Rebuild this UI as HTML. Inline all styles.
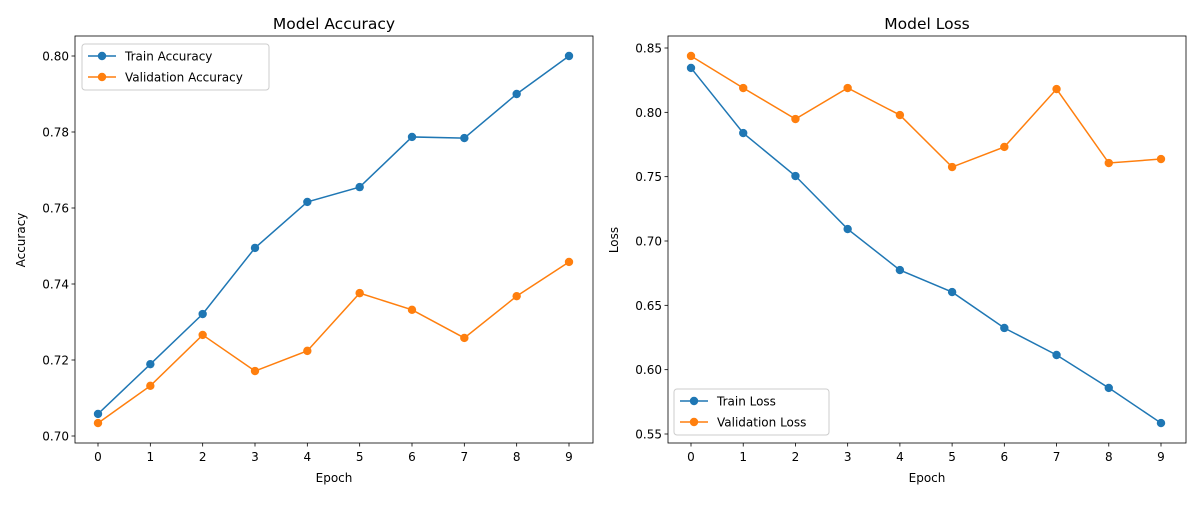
<!DOCTYPE html>
<html><head><meta charset="utf-8"><style>
body{margin:0;background:#fff;}
svg{font-family:"DejaVu Sans","Liberation Sans",sans-serif;}
</style></head><body>
<svg id="s" width="1200" height="500"></svg>
<script>
const epochs=[0,1,2,3,4,5,6,7,8,9];
const trainAcc=[0.7058,0.7189,0.7321,0.7495,0.7616,0.7655,0.7787,0.7784,0.79,0.80];
const valAcc=[0.7034,0.7132,0.7266,0.7171,0.7224,0.7376,0.7332,0.7258,0.7368,0.7458];
const trainLoss=[0.8345,0.7839,0.7505,0.7093,0.6774,0.6603,0.6324,0.6114,0.5858,0.5585];
const valLoss=[0.8438,0.8189,0.7948,0.8189,0.7979,0.7575,0.7731,0.8181,0.7606,0.7637];
const accTicks=[0.70,0.72,0.74,0.76,0.78,0.80];
const lossTicks=[0.55,0.60,0.65,0.70,0.75,0.80,0.85];
const accLegend=["Train Accuracy","Validation Accuracy"];
const lossLegend=["Train Loss","Validation Loss"];
const NS="http://www.w3.org/2000/svg";
const svg=document.getElementById('s');
function mk(t,a,p){const e=document.createElementNS(NS,t);for(const k in a)e.setAttribute(k,a[k]);(p||svg).appendChild(e);return e;}
function panel(o){
  const g=mk('g',{});
  
  
  const X=v=>o.x0+(v-0)*(o.x9-o.x0)/9;
  const Y=v=>o.yA+(v-o.vA)*(o.yB-o.yA)/(o.vB-o.vA);
  const r=mk('rect',{x:o.L,y:36,width:o.R-o.L,height:407,fill:'none',stroke:'#000','stroke-width':0.8},g);
  
  epochs.forEach(e=>{
    mk('line',{x1:X(e),x2:X(e),y1:443,y2:446.5,stroke:'#000','stroke-width':0.8},g);
    const t=mk('text',{x:X(e),y:461,'font-size':12,'text-anchor':'middle'},g);t.textContent=e;
    
  });
  o.ticks.forEach(v=>{
    mk('line',{x1:o.L-3.5,x2:o.L,y1:Y(v),y2:Y(v),stroke:'#000','stroke-width':0.8},g);
    const t=mk('text',{x:o.L-6,y:Y(v)+4.5,'font-size':12,'text-anchor':'end'},g);t.textContent=v.toFixed(o.dec);
    
  });
  let t=mk('text',{x:(o.L+o.R)/2,y:29,'font-size':15.5,'text-anchor':'middle'},g);t.textContent=o.title;
  
  t=mk('text',{x:(o.L+o.R)/2,y:482,'font-size':12,'text-anchor':'middle'},g);t.textContent='Epoch';
  
  const yx=o.L-50;
  t=mk('text',{x:yx,y:240,'font-size':12,'text-anchor':'middle',transform:`rotate(-90 ${yx} 240)`},g);t.textContent=o.ylab;
  
  const cols=['#1f77b4','#ff7f0e'];
  o.series.forEach((s,i)=>{
    const p=mk('polyline',{points:s.map((v,j)=>X(epochs[j])+','+Y(v)).join(' '),fill:'none',stroke:cols[i],'stroke-width':1.5},g);
    
    s.forEach((v,j)=>{const c=mk('circle',{cx:X(epochs[j]),cy:Y(v),r:4.2,fill:cols[i]},g);
      });
  });
  const lg=mk('g',{},g);
  
  mk('rect',{x:o.lx,y:o.ly,width:o.lw,height:46,rx:3,fill:'#fff',stroke:'#ccc','stroke-width':1},lg);
  o.legend.forEach((n,i)=>{
    const yy=o.ly+12+i*21;
    mk('line',{x1:o.lx+6,x2:o.lx+34,y1:yy,y2:yy,stroke:cols[i],'stroke-width':1.5},lg);
    mk('circle',{cx:o.lx+20,cy:yy,r:4.2,fill:cols[i]},lg);
    const tt=mk('text',{x:o.lx+43,y:yy+4.5,'font-size':12},lg);tt.textContent=n;
    
  });
}
panel({name:'accuracy-chart',L:75,R:593,x0:98,x9:569,yA:436,vA:0.70,yB:56,vB:0.80,ticks:accTicks,dec:2,title:'Model Accuracy',ylab:'Accuracy',series:[trainAcc,valAcc],legend:accLegend,lx:82,ly:44,lw:187});
panel({name:'loss-chart',L:668,R:1186,x0:691,x9:1161,yA:434,vA:0.55,yB:48,vB:0.85,ticks:lossTicks,dec:2,title:'Model Loss',ylab:'Loss',series:[trainLoss,valLoss],legend:lossLegend,lx:674,ly:389,lw:155});
</script>
</body></html>
